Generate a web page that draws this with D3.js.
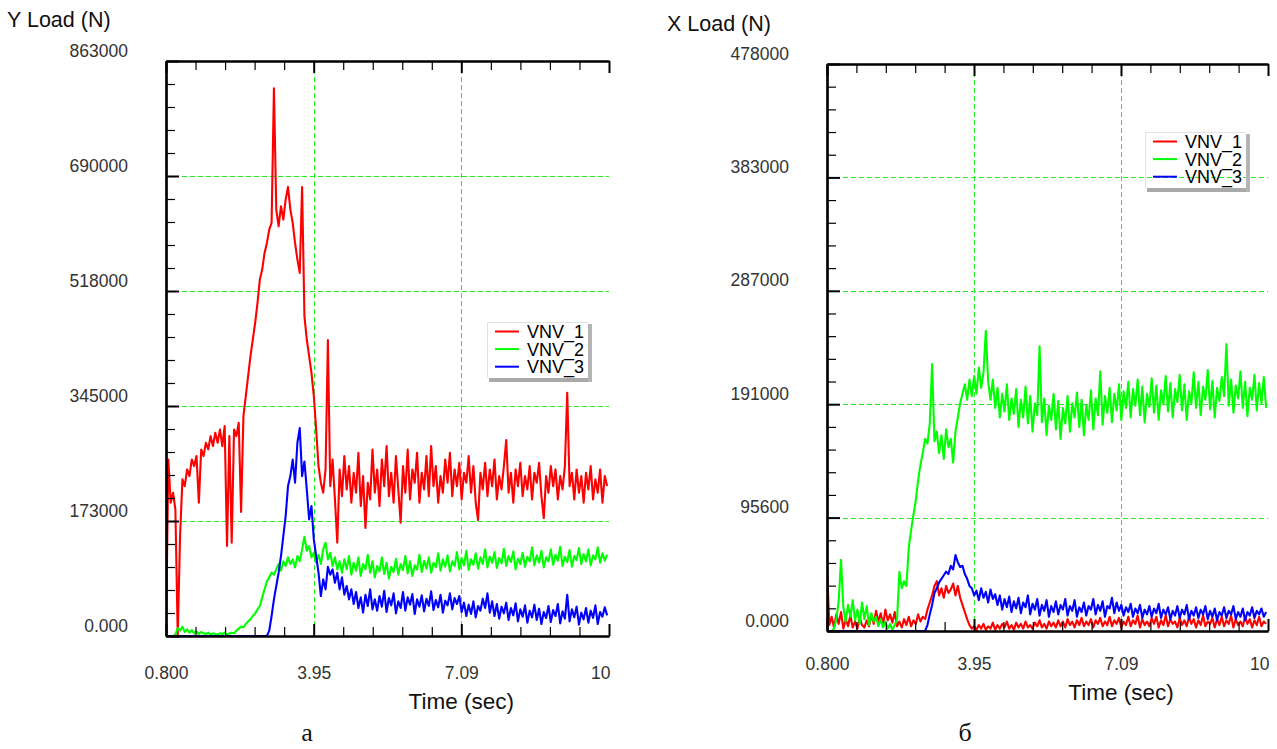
<!DOCTYPE html>
<html>
<head>
<meta charset="utf-8">
<script src="https://cdn.jsdelivr.net/npm/d3@7"></script>
<style>
  body { margin: 0; background: #fff; }
  text { font-family: "Liberation Sans", Arial, sans-serif; }
  .tick text { font-size: 17.5px; fill: #333; }
  .title { font-size: 21.5px; fill: #111; }
  .xlabel { font-size: 22.5px; fill: #111; }
  .legend-text { font-size: 18px; fill: #000; }
  .caption { font-family: "Liberation Serif", "Times New Roman", serif; font-size: 26px; fill: #111; }
</style>
</head>
<body>
<div id="chart"></div>
<script>
// sampled at 20 Hz starting at 0.8 s
const t0 = 0.8, dt = 0.05;

const timeTicks = [0.8, 3.947, 7.093, 10.24];
const timeTickLabels = ["0.800", "3.95", "7.09", "10"];

const seriesNames = ["VNV_1", "VNV_2", "VNV_3"];
const seriesColors = ["#ff0000", "#00ff00", "#0000ff"];

const yLoadTicks = [0, 172600, 345200, 517800, 690400, 863000];
const yLoadTickLabels = ["0.000", "173000", "345000", "518000", "690000", "863000"];
const xLoadTicks = [0, 95600, 191200, 286800, 382400, 478000];
const xLoadTickLabels = ["0.000", "95600", "191000", "287000", "383000", "478000"];

// values in kN
const yLoadVNV1 = [
  0, 265, 200, 215, 190, 0, 150, 235, 225, 250,
  240, 265, 255, 270, 200, 280, 270, 290, 280, 300,
  285, 305, 290, 310, 285, 315, 135, 300, 140, 310,
  300, 320, 186, 330, 360, 390, 420, 445, 470, 500,
  535, 550, 575, 590, 610, 620, 822, 640, 615, 645,
  625, 655, 674, 640, 620, 590, 565, 545, 674, 480,
  445, 420, 395, 360, 310, 255, 230, 215, 250, 444,
  225, 265, 205, 140, 250, 210, 270, 220, 255, 200,
  245, 215, 275, 195, 240, 162, 230, 205, 280, 215,
  250, 195, 265, 225, 285, 210, 245, 200, 270, 220,
  170, 255, 215, 280, 205, 250, 230, 275, 200, 245,
  220, 270, 210, 285, 225, 255, 200, 240, 215, 265,
  230, 275, 210, 250, 225, 260, 205, 245, 230, 270,
  215, 255, 200, 174, 245, 220, 260, 210, 250, 225,
  265, 205, 240, 220, 255, 294, 215, 245, 200, 250,
  225, 260, 210, 240, 220, 255, 205, 245, 230, 260,
  210, 177, 240, 215, 255, 225, 250, 205, 240, 220,
  255, 365, 225, 245, 205, 250, 215, 240, 200, 245,
  220, 255, 205, 235, 215, 250, 200, 240, 225
];
const yLoadVNV2 = [
  0, 0, 0, 0, 2, 12, 8, 14, 6, 10,
  5, 9, 4, 7, 3, 6, 4, 3, 5, 2,
  4, 3, 2, 4, 3, 5, 2, 4, 5, 4,
  8, 11, 14, 13, 18, 22, 25, 30, 34, 40,
  45, 58, 70, 82, 88, 95, 92, 100, 108, 98,
  112, 105, 118, 108, 115, 103, 120, 112, 130, 149,
  128, 135, 118, 125, 110, 122, 108, 130, 140, 115,
  125, 105, 118, 100, 112, 95, 115, 100, 120, 92,
  110, 98, 118, 90, 108, 100, 122, 95, 112, 88,
  105, 97, 118, 93, 110, 86, 104, 96, 116, 92,
  108, 99, 120, 94, 112, 90, 106, 100, 122, 96,
  113, 101, 118, 95, 110, 103, 124, 98, 115, 104,
  121, 97, 112, 105, 126, 100, 117, 106, 128, 99,
  115, 107, 124, 101, 118, 108, 130, 103, 119, 110,
  126, 102, 117, 109, 131, 105, 120, 111, 127, 100,
  116, 108, 125, 104, 119, 112, 133, 106, 121, 110,
  128, 103, 118, 112, 130, 107, 122, 113, 134, 105,
  119, 111, 129, 104, 120, 114, 132, 108, 123, 112,
  130, 106, 121, 115, 133, 110, 124, 113, 122
];
const yLoadVNV3 = [
  0, 0, 0, 0, 0, 0, 0, 0, 0, 0,
  0, 0, 0, 0, 0, 0, 0, 0, 0, 0,
  0, 0, 0, 0, 0, 0, 0, 0, 0, 0,
  0, 0, 0, 0, 0, 0, 0, 0, 0, 0,
  0, 0, 0, 0, 8, 30, 55, 75, 95, 120,
  150, 180, 225, 240, 265, 230, 290, 312, 240, 262,
  220, 175, 195, 145, 120, 95, 60, 85, 70, 104,
  92, 100, 80, 95, 70, 88, 62, 75, 55, 70,
  48, 66, 42, 58, 35, 62, 45, 70, 40, 55,
  38, 60, 44, 68, 36, 57, 46, 64, 34, 52,
  42, 66, 38, 58, 47, 63, 33, 55, 44, 61,
  37, 56, 45, 67, 39, 54, 43, 62, 35, 53,
  46, 64, 40, 57, 48, 60, 36, 50, 30, 47,
  33, 52, 28, 45, 38, 56, 42, 64, 35, 52,
  30, 48, 26, 44, 34, 50, 24, 42, 31, 49,
  22, 40, 29, 46, 20, 38, 28, 47, 24, 41,
  18, 36, 27, 45, 21, 39, 30, 48, 19, 37,
  26, 62, 22, 40, 28, 44, 17, 35, 25, 42,
  20, 38, 27, 46, 18, 36, 29, 43, 31
];

const xLoadVNV1 = [
  54, 5, 12, 3, 14, 6, 16, 2, 10, 4,
  13, 3, 8, 2, 11, 5, 3, 9, 4, 14,
  6, 17, 8, 15, 5, 18, 9, 14, 7, 16,
  4, 8, 3, 10, 5, 12, 4, 9, 6, 14,
  8, 12, 10, 18, 24, 30, 38, 42, 30, 36,
  28, 38, 32, 35, 40, 30, 38, 28, 22, 16,
  10, 5, 2, 4, 1, 5, 2, 6, 1, 4,
  2, 7, 1, 5, 2, 6, 3, 8, 2, 5,
  1, 7, 3, 6, 2, 8, 3, 5, 2, 7,
  4, 9, 3, 6, 2, 8, 4, 7, 3, 9,
  4, 8, 3, 10, 5, 8, 3, 9, 5, 11,
  4, 8, 5, 10, 3, 9, 6, 11, 4, 8,
  5, 12, 4, 9, 6, 11, 3, 8, 5, 12,
  4, 9, 6, 13, 3, 10, 5, 8, 4, 11,
  6, 12, 3, 9, 5, 13, 4, 10, 6, 8,
  3, 11, 5, 9, 4, 12, 6, 10, 3, 9,
  5, 13, 4, 8, 6, 11, 3, 10, 5, 12,
  4, 9, 6, 13, 3, 10, 5, 8, 4, 12,
  6, 10, 3, 9, 5, 12, 4, 8, 6
];
const xLoadVNV2 = [
  0, 0, 0, 2, 10, 25, 60, 20, 8, 22,
  12, 26, 9, 18, 6, 24, 10, 21, 5, 15,
  8, 12, 4, 10, 3, 8, 2, 6, 1, 5,
  10, 50, 36, 42, 38, 70, 85, 98, 110, 127,
  140, 150, 162, 158, 175, 225, 160, 168, 150, 165,
  145, 170, 155, 162, 142, 168, 180, 192, 200, 208,
  195, 212, 198, 215, 200, 222, 205, 218, 253, 210,
  195, 212, 188, 205, 180, 200, 185, 208, 178, 196,
  183, 204, 172, 195, 180, 206, 175, 198, 168, 192,
  182, 240, 176, 196, 165, 190, 178, 200, 170, 194,
  162, 188, 175, 198, 168, 192, 180, 201, 172, 195,
  165, 190, 178, 203, 170, 196, 182, 219, 174, 198,
  184, 205, 176, 200, 186, 208, 178, 202, 188, 210,
  180, 204, 190, 212, 182, 206, 176, 200, 189, 213,
  184, 207, 178, 203, 191, 215, 185, 209, 180, 204,
  193, 216, 186, 208, 178, 202, 192, 218, 188, 210,
  182, 206, 195, 220, 187, 211, 180, 205, 194, 214,
  198, 242, 190, 212, 184, 207, 196, 219, 188, 210,
  181, 205, 195, 216, 186, 209, 192, 214, 188
];
const xLoadVNV3 = [
  0, 0, 0, 0, 0, 0, 0, 0, 0, 0,
  0, 0, 0, 0, 0, 0, 0, 0, 0, 0,
  0, 0, 0, 0, 0, 0, 0, 0, 0, 0,
  0, 0, 0, 0, 0, 0, 0, 0, 0, 0,
  0, 0, 0, 5, 14, 22, 32, 36, 41, 44,
  47, 50, 48, 55, 52, 64, 58, 54, 55, 48,
  44, 38, 36, 30, 34, 26, 36, 28, 33, 24,
  35, 27, 31, 22, 30, 18, 27, 20, 29, 16,
  25, 19, 28, 15, 24, 20, 30, 14, 23, 18,
  27, 13, 22, 17, 26, 12, 21, 16, 25, 14,
  22, 18, 27, 13, 21, 17, 26, 12, 20, 16,
  24, 13, 21, 18, 27, 14, 22, 17, 25, 12,
  21, 19, 28, 15, 24, 17, 22, 13, 20, 16,
  23, 12, 19, 15, 22, 11, 18, 14, 21, 12,
  19, 15, 23, 11, 18, 14, 20, 10, 17, 13,
  21, 11, 18, 14, 22, 10, 17, 13, 20, 11,
  18, 14, 21, 10, 17, 12, 19, 9, 16, 13,
  20, 11, 17, 14, 21, 10, 16, 12, 19, 9,
  16, 13, 20, 11, 17, 14, 19, 12, 16
];

const width = 1277, height = 749;
const gridColor = "#22ee22";

const svg = d3
  .select("#chart")
  .append("svg")
  .attr("width", width)
  .attr("height", height)
  .style("background", "#fff");

// minor ticks: 5 subdivisions between major ticks
function minorsOf(ticks) {
  let out = [];
  for (let k = 0; k < ticks.length - 1; k++) {
    for (let j = 1; j < 5; j++) {
      out.push(ticks[k] + ((ticks[k + 1] - ticks[k]) * j) / 5);
    }
  }
  return out;
}

function drawPanel(p) {
  const x = d3
    .scaleLinear()
    .domain([timeTicks[0], timeTicks[timeTicks.length - 1]])
    .range([p.left, p.right]);
  const y = d3
    .scaleLinear()
    .domain([p.yTicks[0], p.yTicks[p.yTicks.length - 1]])
    .range([p.bottom, p.top]);

  const g = svg.append("g");

  g.append("clipPath")
    .attr("id", p.id + "-clip")
    .append("rect")
    .attr("x", p.left)
    .attr("y", p.top)
    .attr("width", p.right - p.left + 1)
    .attr("height", p.bottom - p.top);

  // grid
  g.append("g")
    .selectAll("line")
    .data(timeTicks.slice(1, -1))
    .join("line")
    .attr("x1", (d) => Math.round(x(d)) + 0.5)
    .attr("x2", (d) => Math.round(x(d)) + 0.5)
    .attr("y1", p.top)
    .attr("y2", p.bottom)
    .attr("stroke", gridColor)
    .attr("stroke-dasharray", "5,3");
  g.append("g")
    .selectAll("line")
    .data(p.yTicks.slice(1, -1))
    .join("line")
    .attr("x1", p.left)
    .attr("x2", p.right)
    .attr("y1", (d) => Math.round(y(d)) + 0.5)
    .attr("y2", (d) => Math.round(y(d)) + 0.5)
    .attr("stroke", gridColor)
    .attr("stroke-dasharray", "5,3");

  // series
  const line = d3
    .line()
    .x((d, i) => x(t0 + i * dt))
    .y((d) => y(d * 1000));

  g.append("g")
    .attr("clip-path", `url(#${p.id}-clip)`)
    .selectAll("path")
    .data(p.series)
    .join("path")
    .attr("d", (d) => line(d))
    .attr("fill", "none")
    .attr("stroke", (d, i) => seriesColors[i])
    .attr("stroke-width", 2.1)
    .attr("stroke-linejoin", "round");

  // axes
  const styleAxis = (sel, w) => {
    sel.select(".domain").attr("stroke", "#000").attr("stroke-width", 2.2);
    sel.selectAll(".tick line").attr("stroke", "#000").attr("stroke-width", w);
  };

  // bottom
  g.append("g")
    .attr("transform", `translate(0,${p.bottom})`)
    .call(d3.axisBottom(x).tickValues(minorsOf(timeTicks)).tickSize(-9).tickSizeOuter(0).tickFormat(""))
    .call((s) => styleAxis(s, 1.2));
  const bx = g
    .append("g")
    .attr("transform", `translate(0,${p.bottom})`)
    .call(
      d3
        .axisBottom(x)
        .tickValues(timeTicks)
        .tickSize(-12)
        .tickSizeOuter(0)
        .tickPadding(p.xPad)
        .tickFormat((d, i) => timeTickLabels[i])
    )
    .call((s) => styleAxis(s, 2));
  bx.selectAll(".tick text")
    .filter((d, i) => i === timeTicks.length - 1)
    .attr("text-anchor", "end")
    .attr("x", 1);

  // top
  g.append("g")
    .attr("transform", `translate(0,${p.top})`)
    .call(d3.axisTop(x).tickValues(minorsOf(timeTicks)).tickSize(-9).tickSizeOuter(0).tickFormat(""))
    .call((s) => styleAxis(s, 1.2));
  g.append("g")
    .attr("transform", `translate(0,${p.top})`)
    .call(d3.axisTop(x).tickValues(timeTicks).tickSize(-12).tickSizeOuter(0).tickFormat(""))
    .call((s) => styleAxis(s, 2));

  // left
  g.append("g")
    .attr("transform", `translate(${p.left},0)`)
    .call(d3.axisLeft(y).tickValues(minorsOf(p.yTicks)).tickSize(-9).tickSizeOuter(0).tickFormat(""))
    .call((s) => styleAxis(s, 1.2));
  const ly = g
    .append("g")
    .attr("transform", `translate(${p.left},0)`)
    .call(
      d3
        .axisLeft(y)
        .tickValues(p.yTicks)
        .tickSize(-13)
        .tickSizeOuter(0)
        .tickPadding(38)
        .tickFormat((d, i) => p.yTickLabels[i])
    )
    .call((s) => styleAxis(s, 2));
  ly.selectAll(".tick text").attr("dy", -5);

  // titles
  svg
    .append("text")
    .attr("class", "title")
    .attr("x", p.titleX)
    .attr("y", p.titleY)
    .text(p.title);
  svg
    .append("text")
    .attr("class", "xlabel")
    .attr("text-anchor", "middle")
    .attr("x", x(timeTicks[2]))
    .attr("y", p.xLabelY)
    .text("Time (sec)");
  svg
    .append("text")
    .attr("class", "caption")
    .attr("text-anchor", "middle")
    .attr("x", p.captionX)
    .attr("y", 741)
    .text(p.caption);

  // legend
  const lg = svg.append("g").attr("transform", `translate(${p.legendX},${p.legendY})`);
  lg.append("rect")
    .attr("x", 2)
    .attr("y", 56)
    .attr("width", 103)
    .attr("height", 4)
    .attr("fill", "#a9a9a9");
  lg.append("rect")
    .attr("x", 101)
    .attr("y", 2)
    .attr("width", 4)
    .attr("height", 58)
    .attr("fill", "#b5b5b5");
  lg.append("path")
    .attr("d", "M0.5,56 V0.5 H101")
    .attr("fill", "none")
    .attr("stroke", "#e2e2e2");
  seriesNames.forEach((name, i) => {
    const ry = 9.5 + i * 17.6;
    lg.append("line")
      .attr("x1", 8)
      .attr("x2", 32)
      .attr("y1", ry)
      .attr("y2", ry)
      .attr("stroke", seriesColors[i])
      .attr("stroke-width", 2);
    lg.append("text")
      .attr("class", "legend-text")
      .attr("x", 40)
      .attr("y", ry)
      .attr("dy", "0.36em")
      .text(name);
  });
}

drawPanel({
  id: "yload",
  left: 166,
  right: 609,
  top: 61,
  bottom: 636,
  xPad: 31,
  yTicks: yLoadTicks,
  yTickLabels: yLoadTickLabels,
  series: [yLoadVNV1, yLoadVNV2, yLoadVNV3],
  title: "Y Load (N)",
  titleX: 7,
  titleY: 27,
  xLabelY: 709,
  caption: "а",
  captionX: 307,
  legendX: 487,
  legendY: 322,
});

drawPanel({
  id: "xload",
  left: 827,
  right: 1268,
  top: 64,
  bottom: 631,
  xPad: 27,
  yTicks: xLoadTicks,
  yTickLabels: xLoadTickLabels,
  series: [xLoadVNV1, xLoadVNV2, xLoadVNV3],
  title: "X Load (N)",
  titleX: 667,
  titleY: 31,
  xLabelY: 700,
  caption: "б",
  captionX: 965,
  legendX: 1145,
  legendY: 132,
});
</script>
</body>
</html>
